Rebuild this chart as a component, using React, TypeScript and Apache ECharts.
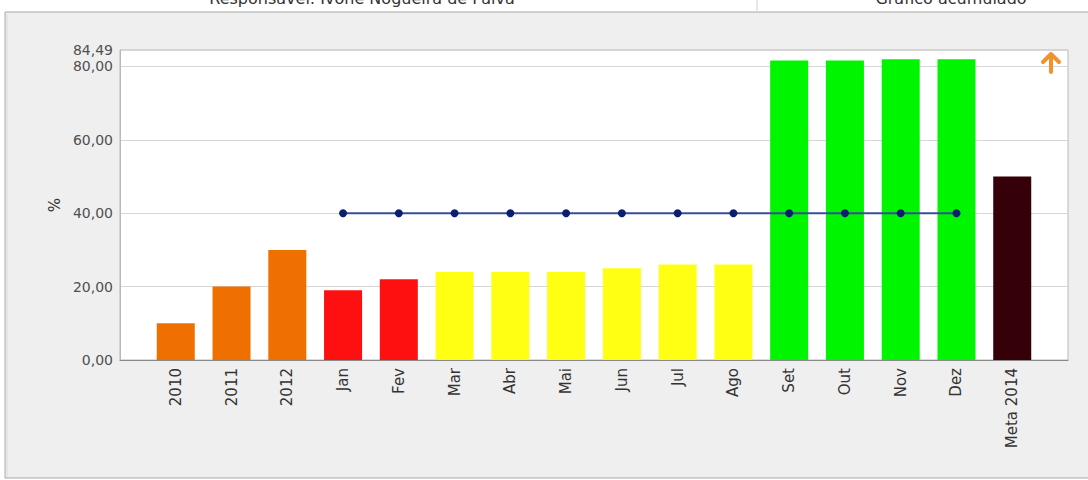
import React, { useEffect, useRef } from "react";
import * as echarts from "echarts";

const categories = ["2010", "2011", "2012", "Jan", "Fev", "Mar", "Abr", "Mai", "Jun", "Jul", "Ago", "Set", "Out", "Nov", "Dez", "Meta 2014"];
const barValues = [10, 20, 30, 19, 22, 24, 24, 24, 25, 26, 26, 81.6, 81.6, 82, 82, 50];
const barColors = ["#ef7000", "#ef7000", "#ef7000", "#ff1010", "#ff1010", "#ffff14", "#ffff14", "#ffff14", "#ffff14", "#ffff14", "#ffff14", "#00f500", "#00f500", "#00f500", "#00f500", "#350008"];
const goalValues = [null, null, null, 40, 40, 40, 40, 40, 40, 40, 40, 40, 40, 40, 40, null];
const yMax = 84.49;
const headerLeft = "Responsável: Ivone Nogueira de Paiva";
const headerRight = "Gráfico acumulado";

export default function App() {
  const ref = useRef<HTMLDivElement>(null);
  useEffect(() => {
    if (!ref.current) return;
    const chart = echarts.init(ref.current, null, { renderer: "svg" });
    const font = "DejaVu Sans, Verdana, sans-serif";
    // pad the category axis with an empty slot at each end (axis spans edge to edge)
    const axisCats = ["", ...categories, ""];
    const bars = [null, ...barValues.map((v, i) => ({ value: v, itemStyle: { color: barColors[i] } })), null];
    const goal = [null, ...goalValues, null];
    chart.setOption({
      animation: false,
      backgroundColor: "#ffffff",
      graphic: [
        { type: "rect", z: -10, shape: { x: 5, y: 12, width: 1090, height: 466 }, style: { fill: "#efefef", stroke: "#a8a8a8", lineWidth: 1 } },
        { type: "line", z: -9, shape: { x1: 7, y1: 14, x2: 7, y2: 477 }, style: { stroke: "#dcdcdc", lineWidth: 1 } },
        { type: "line", z: -9, shape: { x1: 757, y1: 0, x2: 757, y2: 11 }, style: { stroke: "#d0d0d0", lineWidth: 1 } },
        { type: "text", z: -8, style: { text: headerLeft, x: 362, y: -2, align: "center", verticalAlign: "middle", font: `16px ${font}`, fill: "#333" } },
        { type: "text", z: -8, style: { text: headerRight, x: 951, y: -2, align: "center", verticalAlign: "middle", font: `16px ${font}`, fill: "#333" } },
        { type: "polyline", z: 10, shape: { points: [[1043, 62], [1051, 54], [1059, 62]] }, style: { stroke: "#f0932e", lineWidth: 4, fill: null, lineJoin: "round", lineCap: "round" } },
        { type: "line", z: 10, shape: { x1: 1051, y1: 55, x2: 1051, y2: 72 }, style: { stroke: "#f0932e", lineWidth: 4, lineCap: "round" } },
      ],
      grid: { left: 120, right: 20, top: 50, bottom: 120, show: true, borderColor: "#b8b8b8", borderWidth: 1, backgroundColor: "#ffffff" },
      xAxis: {
        type: "category",
        data: axisCats,
        boundaryGap: false,
        axisLine: { show: true, lineStyle: { color: "#888" } },
        axisTick: { show: false },
        splitLine: { show: false },
        axisLabel: { rotate: 90, margin: 8, fontSize: 15, fontFamily: font, color: "#333", interval: 0 },
      },
      yAxis: {
        type: "value",
        min: 0,
        max: yMax,
        interval: 20,
        name: "%",
        nameLocation: "middle",
        nameRotate: 90,
        nameGap: 57,
        nameTextStyle: { fontSize: 15, fontFamily: font, color: "#333" },
        axisLine: { show: true, lineStyle: { color: "#b8b8b8" } },
        axisTick: { show: false },
        splitLine: { show: true, lineStyle: { color: "#d6d6d6" } },
        axisLabel: {
          fontSize: 14,
          fontFamily: font,
          color: "#505050",
          margin: 7,
          showMaxLabel: true,
          formatter: (v: number) => v.toFixed(2).replace(".", ","),
        },
      },
      series: [
        {
          type: "bar",
          barWidth: 38,
          data: bars,
          z: 2,
        },
        {
          type: "line",
          data: goal,
          symbol: "circle",
          symbolSize: 8,
          lineStyle: { color: "#3a4d96", width: 2 },
          itemStyle: { color: "#0c1f6e" },
          z: 3,
        },
      ],
    });
    return () => chart.dispose();
  }, []);
  return <div ref={ref} style={{ position: "fixed", left: 0, top: 0, width: 1088, height: 480 }} />;
}
